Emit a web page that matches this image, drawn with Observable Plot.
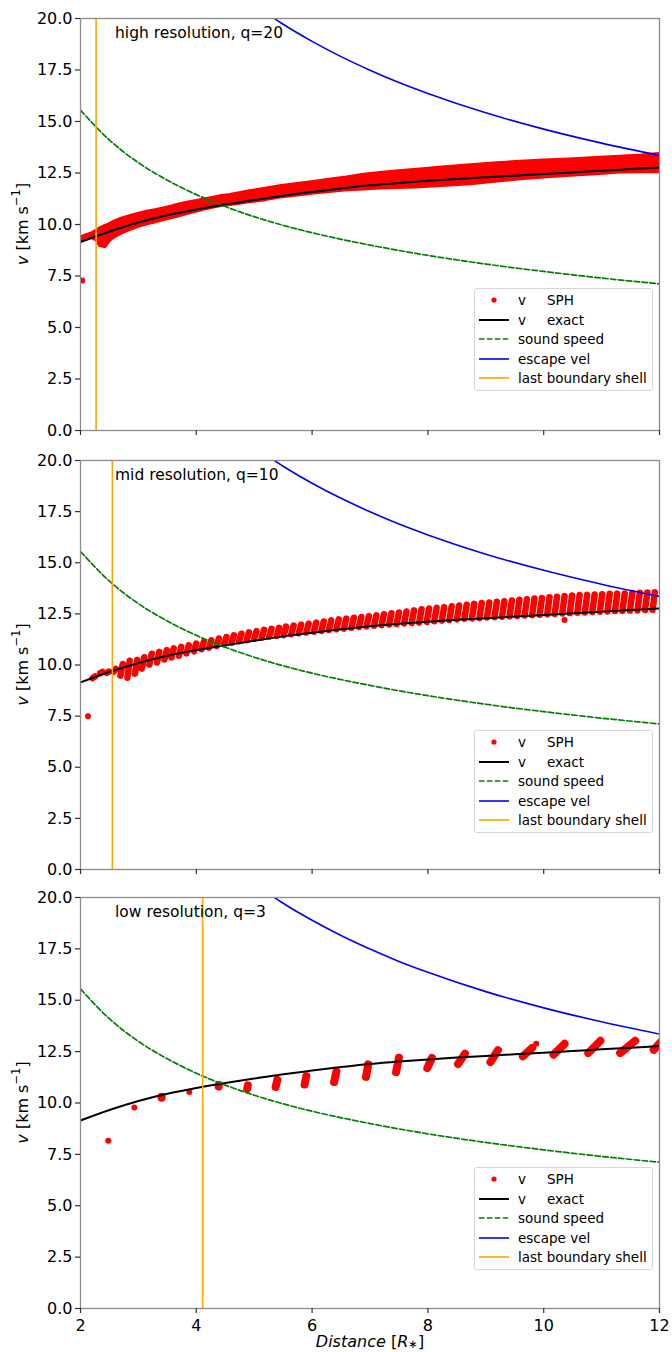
<!DOCTYPE html>
<html>
<head>
<meta charset="utf-8">
<script src="https://cdn.jsdelivr.net/npm/d3@7"></script>
<script src="https://cdn.jsdelivr.net/npm/@observablehq/plot@0.6"></script>
<style>
  body { margin: 0; background: #fff; }
  #root { position: relative; width: 672px; height: 1352px; font-family: "DejaVu Sans", sans-serif; overflow: hidden; }
  .panel { position: absolute; left: 0; }
  .legend { position: absolute; box-sizing: border-box; border: 1px solid #d6d6d6; border-radius: 3px;
            background: rgba(255,255,255,0.85); font-size: 13.5px; color: #000; }
  .legend .row { position: absolute; left: 0; height: 18px; width: 100%; }
  .legend .sw { position: absolute; left: 4px; top: 4px; }
  .legend .lab { position: absolute; top: 0; line-height: 18px; white-space: pre; }
</style>
</head>
<body>
<div id="root"></div>
<script>
// ---------------- data ----------------
const xTicks = [2, 4, 6, 8, 10, 12];
const yTicks = [0, 2.5, 5, 7.5, 10, 12.5, 15, 17.5, 20];

const panelTitles = ["high resolution, q=20", "mid resolution, q=10", "low resolution, q=3"];
const boundaryX = [2.27, 2.55, 4.11];   // last boundary shell per panel

// v exact
const exactX = [2, 2.5, 3, 3.5, 4, 4.5, 5, 5.5, 6, 6.5, 7, 7.5, 8, 8.5, 9, 9.5, 10, 10.5, 11, 11.5, 12];
const exactV = [9.15, 9.66, 10.1, 10.45, 10.73, 10.97, 11.19, 11.4, 11.58, 11.75, 11.9, 12.02, 12.12, 12.21, 12.29, 12.37, 12.45, 12.53, 12.61, 12.69, 12.77];

// sound speed
const soundX = [2, 2.5, 3, 3.5, 4, 4.5, 5, 5.5, 6, 7, 8, 9, 10, 11, 12];
const soundV = [15.55, 14.1, 13.0, 12.15, 11.45, 10.87, 10.38, 9.96, 9.6, 9.0, 8.5, 8.08, 7.72, 7.4, 7.12];

// escape velocity
const escX = [5.3, 5.5, 6, 6.5, 7, 7.5, 8, 9, 10, 11, 12];
const escV = [20.09, 19.72, 18.89, 18.15, 17.49, 16.89, 16.36, 15.42, 14.63, 13.95, 13.35];

// high resolution SPH: band envelope (lower / upper)
const hiX  = [2.05, 2.2, 2.29, 2.35, 2.42, 2.5, 2.58, 2.7, 2.86, 3.0, 3.15, 3.3, 3.44, 3.6, 3.73, 3.87, 4.01, 4.15, 4.3, 4.45, 4.59, 4.75, 4.88, 5.2, 5.45, 5.75, 6.03, 6.3, 6.6, 6.9, 7.18, 7.5, 7.87, 8.3, 8.74, 9.2, 9.6, 10.0, 10.46, 10.9, 11.32, 11.7, 12.0];
const hiLo = [9.25, 9.4, 9.25, 9.0, 8.95, 9.25, 9.42, 9.6, 9.78, 9.93, 10.06, 10.16, 10.26, 10.37, 10.47, 10.58, 10.68, 10.78, 10.87, 10.96, 11.0, 11.06, 11.11, 11.23, 11.36, 11.45, 11.55, 11.63, 11.71, 11.75, 11.79, 11.82, 11.86, 11.93, 12.0, 12.13, 12.25, 12.33, 12.41, 12.49, 12.57, 12.58, 12.58];
const hiHi = [9.38, 9.52, 9.67, 9.77, 9.87, 9.95, 10.08, 10.22, 10.36, 10.47, 10.57, 10.65, 10.73, 10.84, 10.94, 11.02, 11.09, 11.17, 11.25, 11.34, 11.38, 11.47, 11.54, 11.69, 11.81, 11.92, 12.02, 12.13, 12.24, 12.37, 12.45, 12.54, 12.62, 12.73, 12.83, 12.92, 13.0, 13.06, 13.11, 13.18, 13.24, 13.3, 13.37];
const hiDotX = [2.03];
const hiDotV = [7.28];

// mid resolution SPH: one streak per shell (x, lowest v, highest v)
const midX  = [2.23, 2.36, 2.47, 2.59, 2.71, 2.83, 2.96, 3.08, 3.21, 3.34, 3.47, 3.59, 3.72, 3.85, 3.98, 4.11, 4.24, 4.37, 4.5, 4.63, 4.76, 4.89, 5.02, 5.15, 5.28, 5.41, 5.53, 5.66, 5.79, 5.92, 6.05, 6.18, 6.31, 6.44, 6.57, 6.7, 6.83, 6.96, 7.09, 7.22, 7.35, 7.48, 7.61, 7.74, 7.87, 8.0, 8.13, 8.26, 8.39, 8.52, 8.65, 8.78, 8.91, 9.04, 9.17, 9.3, 9.43, 9.56, 9.69, 9.82, 9.95, 10.08, 10.21, 10.34, 10.47, 10.6, 10.73, 10.86, 10.99, 11.12, 11.25, 11.38, 11.51, 11.64, 11.77, 11.9];
const midLo = [9.36, 9.6, 9.62, 9.67, 9.48, 9.38, 9.57, 9.82, 10.02, 10.12, 10.27, 10.37, 10.45, 10.57, 10.67, 10.77, 10.85, 10.93, 11.01, 11.09, 11.17, 11.22, 11.29, 11.34, 11.39, 11.43, 11.46, 11.51, 11.55, 11.59, 11.63, 11.67, 11.71, 11.75, 11.78, 11.82, 11.86, 11.89, 11.92, 11.95, 11.98, 12.0, 12.03, 12.06, 12.08, 12.11, 12.14, 12.17, 12.2, 12.23, 12.26, 12.28, 12.3, 12.32, 12.34, 12.36, 12.38, 12.4, 12.42, 12.44, 12.46, 12.48, 12.5, 12.52, 12.54, 12.56, 12.57, 12.59, 12.61, 12.62, 12.64, 12.65, 12.66, 12.67, 12.69, 12.7];
const midHi = [9.44, 9.66, 9.68, 9.81, 10.05, 10.21, 10.25, 10.38, 10.55, 10.64, 10.73, 10.81, 10.89, 10.96, 11.05, 11.13, 11.21, 11.29, 11.37, 11.45, 11.53, 11.6, 11.66, 11.72, 11.77, 11.82, 11.88, 11.93, 11.97, 12.02, 12.07, 12.13, 12.18, 12.23, 12.27, 12.31, 12.35, 12.39, 12.43, 12.48, 12.53, 12.57, 12.62, 12.67, 12.73, 12.76, 12.8, 12.83, 12.87, 12.91, 12.95, 12.99, 13.03, 13.06, 13.09, 13.12, 13.15, 13.19, 13.22, 13.25, 13.28, 13.31, 13.34, 13.37, 13.4, 13.42, 13.43, 13.45, 13.46, 13.48, 13.49, 13.5, 13.52, 13.53, 13.55, 13.56];
const midDotX = [2.13, 10.36];
const midDotV = [7.5, 12.2];

// low resolution SPH: tilted clumps (centre line start x / v, end x / v) and single particles
const lowX1 = [3.4, 4.385, 4.88, 5.37, 5.87, 6.38, 6.93, 7.45, 7.99, 8.52, 9.08, 9.64, 10.17, 10.77, 11.32, 11.9];
const lowV1 = [10.26, 10.8, 10.7, 10.78, 10.9, 11.02, 11.27, 11.5, 11.7, 11.9, 11.99, 12.27, 12.35, 12.43, 12.43, 12.59];
const lowX2 = [3.4, 4.39, 4.89, 5.4, 5.9, 6.42, 6.97, 7.5, 8.07, 8.64, 9.21, 9.8, 10.36, 10.98, 11.58, 12.05];
const lowV2 = [10.3, 10.88, 10.86, 11.13, 11.3, 11.54, 11.88, 12.2, 12.19, 12.4, 12.57, 12.68, 12.88, 13.03, 13.03, 13.05];
const lowDotX = [2.48, 2.93, 3.88, 9.87];
const lowDotV = [8.16, 9.78, 10.53, 12.88];

const legendLabels = [["v", "SPH"], ["v", "exact"], ["sound speed"], ["escape vel"], ["last boundary shell"]];

// ---------------- tables ----------------
const zip = (xs, ys) => xs.map((x, i) => ({x, v: ys[i]}));
const exact = zip(exactX, exactV);
const sound = zip(soundX, soundV);
const esc = zip(escX, escV);
const hiBand = hiX.map((x, i) => ({x, lo: hiLo[i], hi: hiHi[i]}));
const midStreaks = midX.map((x, i) => ({x, lo: midLo[i], hi: midHi[i]}));
const lowClumps = lowX1.map((x1, i) => ({x1, v1: lowV1[i], x2: lowX2[i], v2: lowV2[i]}));

const FONT = '"DejaVu Sans", sans-serif';
const RED = "#ff0000", GREEN = "#008000", BLUE = "#0000ff", ORANGE = "#ffa500";
const MID_TILT = 0.02; // slight slant of each mid-resolution streak (style)

const layout = [
  {svgTop: 0,   mt: 18, H: 412, mb: 12, xLabels: false},
  {svgTop: 442, mt: 18, H: 409, mb: 10, xLabels: false},
  {svgTop: 879, mt: 18, H: 411, mb: 44, xLabels: true}
];

function sphMarks(i) {
  if (i === 0) return [
    Plot.areaY(hiBand, {x: "x", y1: "lo", y2: "hi", fill: RED, stroke: RED, strokeWidth: 5, strokeLinejoin: "round", curve: "linear", clip: true}),
    Plot.dot(zip(hiDotX, hiDotV), {x: "x", y: "v", r: 3, fill: RED, clip: true})
  ];
  if (i === 1) return [
    Plot.link(midStreaks, {x1: d => d.x - MID_TILT, y1: "lo", x2: d => d.x + MID_TILT, y2: "hi", stroke: RED, strokeWidth: 6.5, strokeLinecap: "round", clip: true}),
    Plot.dot(zip(midDotX, midDotV), {x: "x", y: "v", r: 3, fill: RED, clip: true})
  ];
  return [
    Plot.link(lowClumps, {x1: "x1", y1: "v1", x2: "x2", y2: "v2", stroke: RED, strokeWidth: 8, strokeLinecap: "round", clip: true}),
    Plot.dot(zip(lowDotX, lowDotV), {x: "x", y: "v", r: 3, fill: RED, clip: true})
  ];
}

const root = document.getElementById("root");

layout.forEach((L, i) => {
  const height = L.mt + L.H + L.mb;
  const svg = Plot.plot({
    width: 672,
    height,
    marginLeft: 80,
    marginRight: 13,
    marginTop: L.mt,
    marginBottom: L.mb,
    style: {fontFamily: FONT, fontSize: "16px", color: "#000", background: "#fff"},
    x: {domain: [2, 12]},
    y: {domain: [0, 20]},
    marks: [
      ...sphMarks(i),
      Plot.line(exact, {x: "x", y: "v", stroke: "#000", strokeWidth: 2, curve: "monotone-x", clip: true}),
      Plot.line(sound, {x: "x", y: "v", stroke: GREEN, strokeWidth: 1.7, strokeDasharray: "5.5,2.4", curve: "monotone-x", clip: true}),
      Plot.line(esc, {x: "x", y: "v", stroke: BLUE, strokeWidth: 1.6, curve: "monotone-x", clip: true}),
      Plot.ruleX([boundaryX[i]], {stroke: ORANGE, strokeWidth: 1.6}),
      Plot.frame({stroke: "#8c8c8c", strokeWidth: 1.3}),
      Plot.axisY({ticks: yTicks, tickFormat: d3.format(".1f"), tickSize: 5, tickPadding: 3, label: null, fontSize: 16, fontFamily: FONT, stroke: "#333", strokeWidth: 1.2}),
      Plot.axisX({ticks: xTicks, tickFormat: L.xLabels ? (d => String(d)) : (() => ""), tickSize: 5, tickPadding: 6, label: null, fontSize: 16, fontFamily: FONT, line: true, stroke: "#333", strokeWidth: 1.2})
    ]
  });

  const s = d3.select(svg);

  // panel title (text placed in the top-left corner of the frame)
  s.append("text")
    .attr("x", 115).attr("y", L.mt + 15)
    .attr("text-anchor", "start")
    .attr("dominant-baseline", "central")
    .style("font-family", FONT)
    .style("font-size", "15.5px")
    .attr("fill", "#000")
    .text(panelTitles[i]);

  // y axis label
  const yl = s.append("text")
    .attr("transform", `translate(22,${L.mt + L.H / 2}) rotate(-90)`)
    .attr("text-anchor", "middle")
    .attr("dominant-baseline", "central")
    .style("font-size", "16px")
    .style("font-family", FONT)
    .attr("fill", "#000");
  yl.append("tspan").attr("font-style", "italic").text("v");
  yl.append("tspan").text(" [km s");
  yl.append("tspan").style("font-size", "11.5px").attr("dy", -6).text("\u22121");
  yl.append("tspan").attr("dy", 6).text("]");

  if (L.xLabels) {
    const xl = s.append("text")
      .attr("x", 370).attr("y", L.mt + L.H + 33)
      .attr("text-anchor", "middle")
      .attr("dominant-baseline", "central")
      .style("font-size", "16px")
      .style("font-family", FONT)
      .attr("fill", "#000");
    xl.append("tspan").attr("font-style", "italic").text("Distance");
    xl.append("tspan").text(" [");
    xl.append("tspan").attr("font-style", "italic").text("R");
    xl.append("tspan").style("font-size", "11.5px").attr("font-style", "italic").attr("dy", 3).text("\u2217");
    xl.append("tspan").attr("dy", -3).text("]");
  }

  const wrap = document.createElement("div");
  wrap.className = "panel";
  wrap.style.top = L.svgTop + "px";
  wrap.appendChild(svg);
  root.appendChild(wrap);

  // legend
  const lg = document.createElement("div");
  lg.className = "legend";
  lg.style.left = "474px";
  lg.style.top = (L.svgTop + L.mt + 270) + "px";
  lg.style.width = "179px";
  lg.style.height = "103px";
  const swatches = [
    `<circle cx="15" cy="5" r="2.6" fill="${RED}"/>`,
    `<line x1="0" x2="30" y1="5" y2="5" stroke="#000" stroke-width="2"/>`,
    `<line x1="0" x2="30" y1="5" y2="5" stroke="${GREEN}" stroke-width="1.7" stroke-dasharray="5.5,2.4"/>`,
    `<line x1="0" x2="30" y1="5" y2="5" stroke="${BLUE}" stroke-width="1.6"/>`,
    `<line x1="0" x2="30" y1="5" y2="5" stroke="${ORANGE}" stroke-width="1.6"/>`
  ];
  legendLabels.forEach((lab, k) => {
    const row = document.createElement("div");
    row.className = "row";
    row.style.top = (2 + 19.5 * k) + "px";
    let html = `<svg class="sw" width="30" height="10">${swatches[k]}</svg>`;
    html += `<span class="lab" style="left:43px">${lab[0]}</span>`;
    if (lab.length > 1) html += `<span class="lab" style="left:72px">${lab[1]}</span>`;
    row.innerHTML = html;
    lg.appendChild(row);
  });
  root.appendChild(lg);
});
</script>
</body>
</html>
